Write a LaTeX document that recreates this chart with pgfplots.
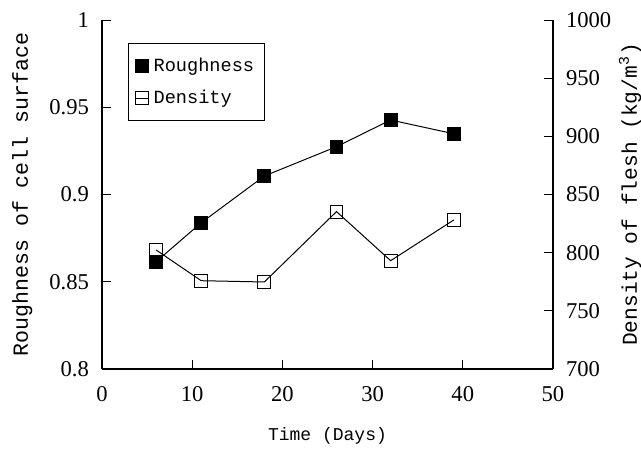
\documentclass[border=0pt]{standalone}
\usepackage{fontspec}
\setmainfont{Liberation Serif}
\newfontfamily\labelfont{Liberation Mono}
\usepackage{pgfplots}
\pgfplotsset{compat=1.18}

\pgfplotstableread{
day rough
6  0.8615
11 0.8838
18 0.9106
26 0.9274
32 0.9427
39 0.9348
}\roughtable

\pgfplotstableread{
day dens
6  802.3
11 775.9
18 774.8
26 835.3
32 793.1
39 828.1
}\denstable

\begin{document}
\begin{tikzpicture}
\pgfplotsset{
  every axis/.append style={
    scale only axis,
    width=225.5pt, height=174.5pt,
    xmin=0, xmax=50,
    tick align=inside,
    major tick length=4.5pt,
    tick style={black, line width=0.5pt},
    axis line style={line width=0.6pt},
    tick label style={font=\fontsize{11.3}{12}\selectfont},
    /pgf/number format/assume math mode=true,
    /pgf/number format/set thousands separator={},
  },
}
\begin{axis}[
  axis y line*=left,
  axis x line*=bottom,
  ymin=0.8, ymax=1,
  ytick={0.8,0.85,0.9,0.95,1},
  yticklabels={0.8,0.85,0.9,0.95,1},
  yticklabel style={xshift=-3pt},
  xtick={0,10,...,50},
  xticklabel style={yshift=-5pt},
  xlabel={Time (Days)},
  xlabel style={font=\labelfont\fontsize{9}{10}\selectfont, at={(axis description cs:0.5,-0.192)}, anchor=center},
  ylabel={Roughness of cell surface},
  ylabel style={font=\labelfont\fontsize{10.8}{12}\selectfont, at={(axis description cs:-0.177,0.5)}, anchor=center},
  legend style={at={(axis description cs:0.058,0.934)}, anchor=north west,
    font=\labelfont\fontsize{9.3}{11}\selectfont, draw=black, line width=0.5pt,
    inner xsep=3pt, inner ysep=5pt, row sep=4pt},
  legend cell align=left,
  legend image code/.code={\draw[mark repeat=2,mark phase=2,#1] plot coordinates {(0pt,0pt) (3.5pt,0pt) (7pt,0pt)};},
]
\addplot[black, line width=0.5pt, mark=square*, mark size=3.2pt, mark options={fill=black}] table[x=day, y=rough] {\roughtable};
\addlegendentry{Roughness}
\addlegendimage{black, line width=0.5pt, mark=square, mark size=3.2pt, mark options={fill=white}}
\addlegendentry{Density}
\end{axis}
\begin{axis}[
  axis y line*=right,
  axis x line=none,
  ymin=700, ymax=1000,
  ytick={700,750,...,1000},
  yticklabel style={xshift=3pt},
  ylabel={Density of flesh (kg/m\textsuperscript{3})},
  ylabel style={font=\labelfont\fontsize{10.6}{12}\selectfont, at={(axis description cs:1.171,0.5)}, anchor=center},
]
\addplot[black, line width=0.5pt, mark=square, mark size=3.2pt, mark options={fill=white}] table[x=day, y=dens] {\denstable};
\end{axis}
\pgfresetboundingbox
\path (-51pt,-41pt) rectangle (269.5pt,184.5pt);
\end{tikzpicture}
\end{document}
